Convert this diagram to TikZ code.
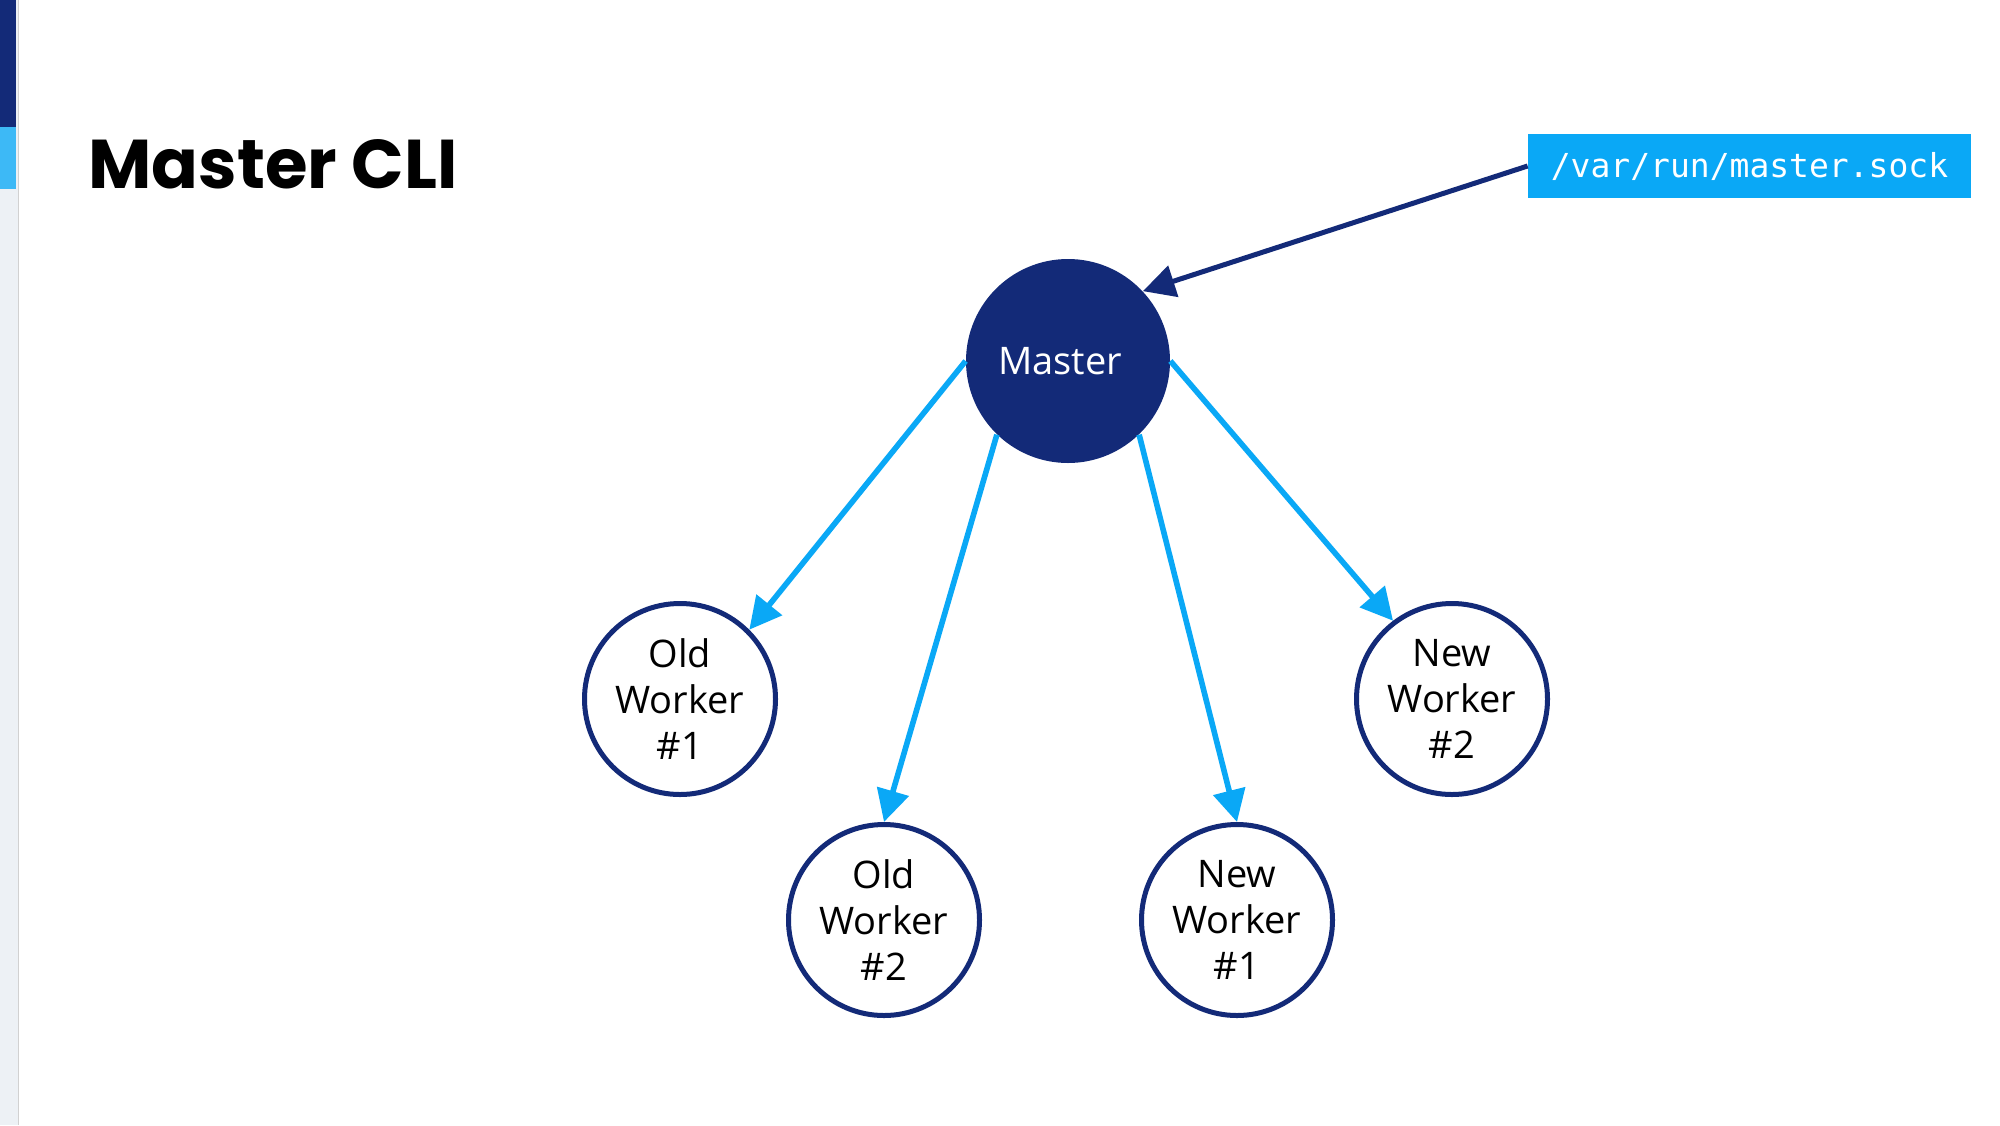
\documentclass[tikz,border=0pt]{standalone}
\usepackage{fontspec}
\setmainfont{Open Sans}
\newfontfamily\titlefont{Poppins}
\newfontfamily\sockfont{DejaVu Sans Mono}
\usetikzlibrary{arrows.meta}
\definecolor{navy}{HTML}{132A78}
\definecolor{sky}{HTML}{0AA8F6}
\definecolor{skylight}{HTML}{3DB9F6}
\definecolor{panel}{HTML}{EDF1F5}
\tikzset{
	worker/.style={circle,draw=navy,line width=2.5pt,fill=white,minimum size=95.5pt,inner sep=0pt,align=center,font=\fontsize{19}{23}\selectfont},
	feed/.style={draw=sky,line width=2.8pt,-{Triangle[length=16pt,width=16pt]}},
}
\begin{document}
\begin{tikzpicture}[x=0.5pt,y=-0.5pt]
	\useasboundingbox[fill=white] (0,0) rectangle (2000,1125);
	% Seitenleiste
	\fill[panel] (0,0) rectangle (18,1125);
	\draw[black!18,line width=0.5pt] (18.5,0) to (18.5,1125);
	\fill[navy] (0,0) rectangle (16,127);
	\fill[skylight] (0,127) rectangle (16,189);
	% Titel
	\node[anchor=base west,inner sep=0pt,font=\titlefont\bfseries\fontsize{34.5}{42}\selectfont] (title) at (88,188) {Master CLI};
	% Knoten
	\node[circle,fill=navy,text=white,minimum size=102pt,inner sep=0pt,font=\fontsize{19}{23}\selectfont] (master) at (1068,361) {\hspace*{-8pt}Master};
	\node[worker] (old1) at (680,699) {Old\\Worker\\\#1};
	\node[worker] (old2) at (884,920) {Old\\Worker\\\#2};
	\node[worker] (new1) at (1237,920) {New\\Worker\\\#1};
	\node[worker] (new2) at (1452,699) {New\\Worker\\\#2};
	\node[fill=sky,text=white,minimum width=221.5pt,minimum height=32pt,inner sep=0pt,font=\sockfont\fontsize{16.5}{20}\selectfont] (sock) at (1749.5,166) {/var/run/master.sock};
	% Pfeile
	\draw[navy,line width=2.5pt,-{Triangle[length=16pt,width=16pt]}] (sock.west) to (master.43);
	\draw[feed] (master.180) to (old1.45);
	\draw[feed] (master.226) to (old2.north);
	\draw[feed] (master.314) to (new1.north);
	\draw[feed] (master.0) to (new2.127);
\end{tikzpicture}
\end{document}
